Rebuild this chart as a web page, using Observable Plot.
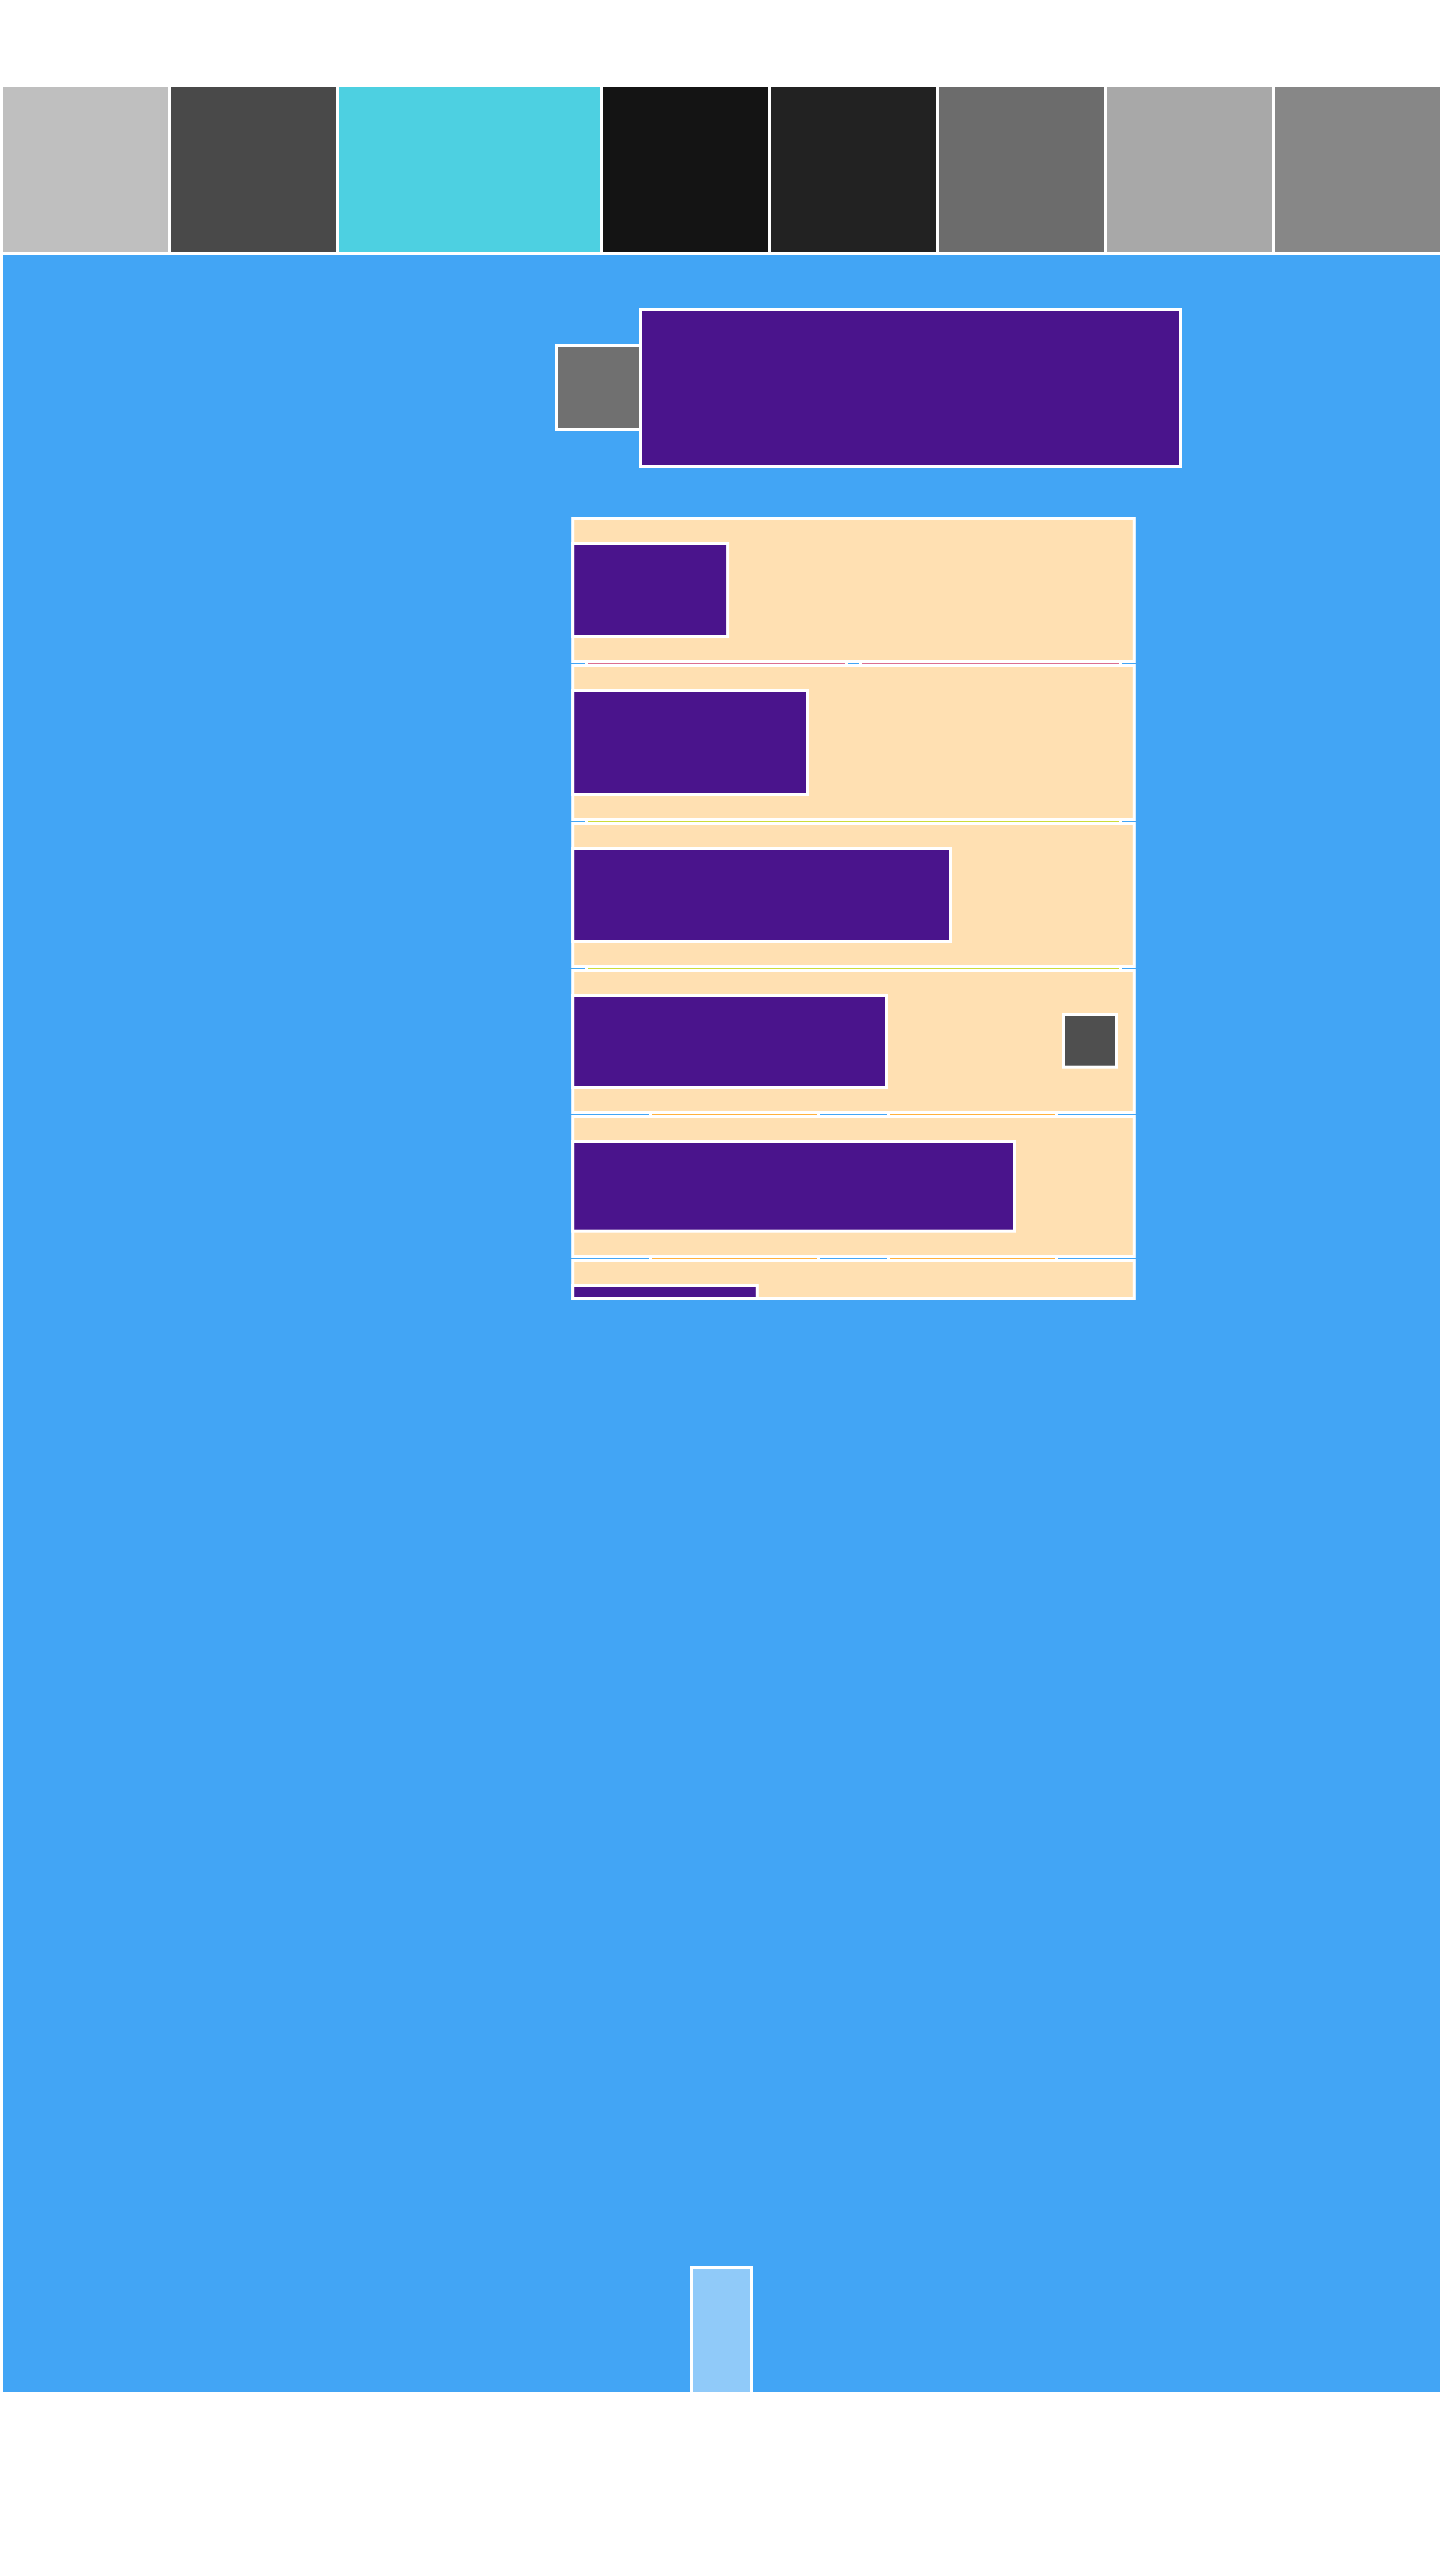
<!DOCTYPE html>
<html>
<head>
<meta charset="utf-8">
<script src="https://cdn.jsdelivr.net/npm/d3@7"></script>
<script src="https://cdn.jsdelivr.net/npm/@observablehq/plot@0.6"></script>
<style>
  html, body { margin: 0; padding: 0; background: #ffffff; }
  #chart svg { display: block; }
</style>
</head>
<body>
<div id="chart"></div>
<script>
// ---- data ----
// top row of tiles
const tileWidths = [168, 168, 264, 168, 168, 168, 168, 170];
const tileColors = ["#BFBFBF", "#494949", "#4DD0E1", "#141414", "#222222", "#6C6C6C", "#A8A8A8", "#878787"];
const tileStart = 1.5;
const tileTop = 85.5;
const tileBottom = 253.5;

// large background block
const background = {x1: 1.5, x2: 1443, y1: 253.5, y2: 2393.5, fill: "#42A5F5"};

// header block
const headerBoxes = [
  {x1: 556.5, x2: 640.5, y1: 345.5, y2: 429.5, fill: "#707070"},
  {x1: 640.5, x2: 1180.5, y1: 309.5, y2: 466.5, fill: "#4A148C"}
];

// beige panels
const panelLeft = 572.7;
const panelRight = 1134.3;
const panelTops = [518.5, 665.5, 823.5, 970.5, 1116.5, 1260.5];
const panelBottoms = [661.5, 819.5, 966.5, 1112.5, 1256.5, 1298.5];

// purple bars inside panels
const barEnds = [727.6, 807.5, 950.5, 886.5, 1014.5, 757.3];
const barTops = [543.5, 690.5, 848.5, 995.5, 1141.5, 1285.5];
const barBottoms = [636.5, 794.5, 941.5, 1087.5, 1231.2, 1298.5];

// separators between panels (top pixel row of each 1px line)
const sepRows = [663, 821, 968, 1114, 1258];
const sepColors = ["#DB6E90", "#CDDC39", "#CDDC39", "#FFB13D", "#FFB13D"];
const sepSegments = [
  [[587.9, 845.1], [861.9, 1118.7]],
  [[587.9, 1118.7]],
  [[587.9, 1118.7]],
  [[651.8, 817.1], [889.9, 1054.8]],
  [[651.8, 817.1], [889.9, 1054.8]]
];

// small square and bottom bar
const smallSquare = {x1: 1063.5, x2: 1116.5, y1: 1014.5, y2: 1067.2, fill: "#4F4F4F"};
const bottomBar = {x1: 691.5, x2: 751.5, y1: 2267.5, y2: 2393.5, fill: "#90CAF9"};

// ---- build tables ----
const tiles = [];
let cx = tileStart;
tileWidths.forEach((w, i) => {
  tiles.push({x1: cx, x2: cx + w, y1: tileTop, y2: tileBottom, fill: tileColors[i]});
  cx += w;
});
const panels = panelTops.map((t, i) => ({x1: panelLeft, x2: panelRight, y1: t, y2: panelBottoms[i], fill: "#FFE0B2"}));
const bars = barEnds.map((e, i) => ({x1: panelLeft, x2: e, y1: barTops[i], y2: barBottoms[i], fill: "#4A148C"}));
const sepWhite = [];
const sepLines = [];
sepRows.forEach((r, i) => {
  sepSegments[i].forEach(([a, b]) => {
    sepWhite.push({x1: a - 3, x2: b + 3, y1: r, y2: r + 1});
    sepLines.push({x1: a, x2: b, y1: r, y2: r + 1, fill: sepColors[i]});
  });
});

const W = 1440, H = 2560;
const boxed = (data) => Plot.rect(data, {x1: "x1", x2: "x2", y1: "y1", y2: "y2", fill: "fill", stroke: "#ffffff", strokeWidth: 3});

const chart = Plot.plot({
  width: W,
  height: H,
  margin: 0,
  x: {domain: [0, W], range: [0, W], axis: null},
  y: {domain: [0, H], range: [0, H], axis: null},
  style: {background: "#ffffff"},
  marks: [
    boxed([background]),
    boxed(tiles),
    boxed(headerBoxes),
    boxed(panels),
    Plot.rect(sepWhite, {x1: "x1", x2: "x2", y1: "y1", y2: "y2", fill: "#ffffff", shapeRendering: "crispEdges"}),
    Plot.rect(sepLines, {x1: "x1", x2: "x2", y1: "y1", y2: "y2", fill: "fill", shapeRendering: "crispEdges"}),
    boxed(bars),
    boxed([smallSquare]),
    boxed([bottomBar])
  ]
});
document.getElementById("chart").appendChild(chart);
</script>
</body>
</html>
